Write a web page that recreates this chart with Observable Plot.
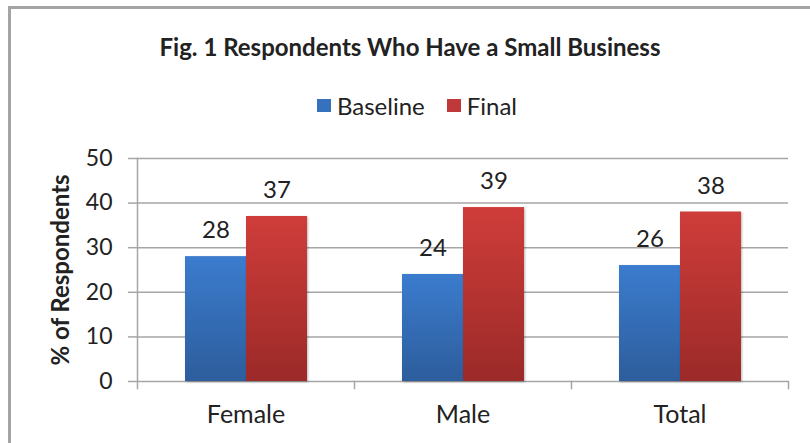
<!DOCTYPE html>
<html>
<head>
<meta charset="utf-8">
<script src="https://cdn.jsdelivr.net/npm/d3@7"></script>
<script src="https://cdn.jsdelivr.net/npm/@observablehq/plot@0.6"></script>
<style>
  html, body { margin: 0; padding: 0; background: #fff; }
  #wrap { position: relative; width: 810px; height: 443px; overflow: hidden; background: #fff; font-family: Lato, "Open Sans", sans-serif; color: #222; }
  #border { position: absolute; left: 8px; top: 6px; width: 900px; height: 500px; border-left: 3px solid #a4a4a4; border-top: 3px solid #a4a4a4; }
  #title { position: absolute; left: 10px; width: 800px; top: 33px; text-align: center; font-weight: bold; font-size: 24px; line-height: 28px; }
  #legend { position: absolute; left: 12px; width: 810px; top: 89px; text-align: center; font-size: 24px; line-height: 28px; }
  #legend span.item { display: inline-flex; align-items: center; margin: 0 11px; }
  #legend span.sw { display: inline-block; width: 14px; height: 13px; margin-right: 6px; }
  #chart { position: absolute; left: 0; top: 140px; }
  #chart g[aria-label="bar"] rect { filter: drop-shadow(1px 1px 1px rgba(0,0,0,0.28)); }
</style>
</head>
<body>
<svg width="0" height="0" style="position:absolute">
  <defs>
    <linearGradient id="gBlue" x1="0" y1="0" x2="0" y2="1">
      <stop offset="0" stop-color="#3b7cce"/>
      <stop offset="1" stop-color="#2d5d9c"/>
    </linearGradient>
    <linearGradient id="gRed" x1="0" y1="0" x2="0" y2="1">
      <stop offset="0" stop-color="#cf3d3a"/>
      <stop offset="1" stop-color="#9b2a28"/>
    </linearGradient>
  </defs>
</svg>
<div id="wrap">
  <div id="border"></div>
  <div id="title"></div>
  <div id="legend"></div>
  <div id="chart"></div>
</div>
<script>
const titleText = "Fig. 1 Respondents Who Have a Small Business";
const yLabel = "% of Respondents";
const categories = ["Female", "Male", "Total"];
const series = ["Baseline", "Final"];
const baselineValues = [28, 24, 26];
const finalValues = [37, 39, 38];
const yTicks = [0, 10, 20, 30, 40, 50];
const seriesFills = ["url(#gBlue)", "url(#gRed)"];
const swatchColors = ["#3571bd", "#c0393a"];

const data = categories.flatMap((c, i) => [
  {category: c, series: series[0], value: baselineValues[i]},
  {category: c, series: series[1], value: finalValues[i]}
]);

document.getElementById("title").textContent = titleText;
const legend = document.getElementById("legend");
series.forEach((s, i) => {
  const item = document.createElement("span");
  item.className = "item";
  const sw = document.createElement("span");
  sw.className = "sw";
  sw.style.background = swatchColors[i];
  item.appendChild(sw);
  item.appendChild(document.createTextNode(s));
  legend.appendChild(item);
});

const gridColor = "#a6a6a6";
const chart = Plot.plot({
  width: 810,
  height: 303,
  marginTop: 18,
  marginBottom: 62,
  marginLeft: 136,
  marginRight: 22,
  style: {fontFamily: "Lato, sans-serif", fontSize: "22px", color: "#222", background: "transparent", overflow: "visible"},
  fx: {domain: categories, padding: 0, label: null},
  x: {domain: series, paddingInner: 0, paddingOuter: 0.764, axis: null},
  y: {domain: [0, 50], ticks: yTicks, label: null},
  color: {domain: series, range: seriesFills},
  marks: [
    Plot.gridY(yTicks, {stroke: gridColor, strokeOpacity: 1, strokeWidth: 1.5}),
    Plot.axisY(yTicks, {tickSize: 9, tickPadding: 16, stroke: gridColor, strokeOpacity: 1, strokeWidth: 1.5, fill: "#222", label: null, fontSize: 23}),
    Plot.axisFx({anchor: "bottom", tickSize: 0, tickPadding: 24, label: null, fontSize: 25, fill: "#222"}),
    Plot.frame({anchor: "right", insetTop: 223, insetBottom: -7, stroke: gridColor, strokeWidth: 1.5}),
    Plot.frame({anchor: "left", facetAnchor: "left", insetBottom: -7, stroke: gridColor, strokeWidth: 1.5}),
    Plot.text([yLabel], {frameAnchor: "left", textAnchor: "middle", lineAnchor: "middle", rotate: -90, dx: -76, fontWeight: "bold", fontSize: 24, fill: "#222", facetAnchor: "left"}),
    Plot.barY(data, {fx: "category", x: "series", y: "value", fill: "series"}),
    Plot.text(data, {fx: "category", x: "series", y: "value", text: d => String(d.value), dy: -26, fontSize: 24, fill: "#222"})
  ]
});
document.getElementById("chart").appendChild(chart);
</script>
</body>
</html>
